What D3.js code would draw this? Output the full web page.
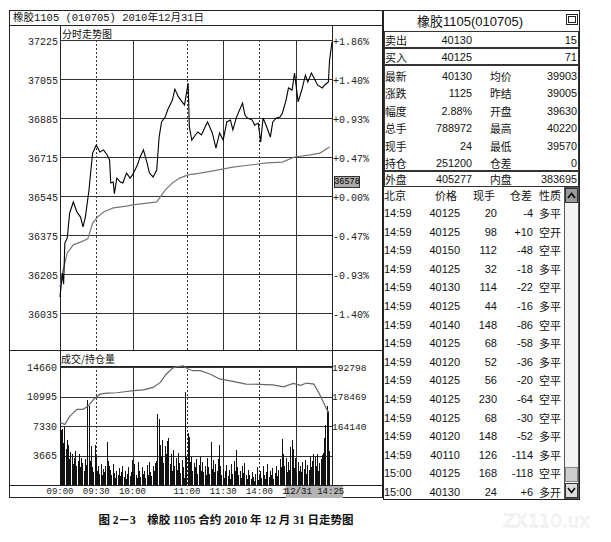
<!DOCTYPE html>
<html><head><meta charset="utf-8">
<script src="https://cdn.jsdelivr.net/npm/d3@7"></script>
<style>body{margin:0;background:#fff}</style>
</head><body><svg id="c" width="611" height="542" xmlns="http://www.w3.org/2000/svg"></svg>
<script>
// ---------- DATA ----------
const titleLeft = "橡胶1105 (010705) 2010年12月31日";
const priceTitle = "分时走势图";
const volTitle = "成交/持仓量";
const priceTicks = [37225, 37055, 36885, 36715, 36545, 36375, 36205, 36035];
const pctTicks = ["+1.86%", "+1.40%", "+0.93%", "+0.47%", "+0.00%", "-0.47%", "-0.93%", "-1.40%"];
const volTicks = [14660, 10995, 7330, 3665];
const oiTicks = [192798, 178469, 164140];
const timeLabels = ["09:00", "09:30", "10:00", "11:00", "11:30", "14:00", "14:30"];
const gridTimes = ["09:30", "10:00", "11:00", "11:30", "14:00", "14:30"];
const gridDotted = [true, false, true, false, true, false];
const cursorPrice = 36578;
const cursorTime = "12/31 14:25";
// [minute index, price]
const priceSeries = [[0,36105],[2,36209],[3,36161],[4,36340],[6,36362],[8,36471],[11,36519],[14,36475],[17,36453],[19,36410],[21,36453],[22,36493],[24,36571],[25,36628],[27,36732],[30,36767],[33,36737],[36,36746],[39,36724],[41,36702],[42,36602],[44,36606],[45,36555],[47,36623],[50,36606],[52,36602],[55,36645],[58,36623],[60,36637],[64,36680],[66,36711],[69,36746],[72,36689],[74,36645],[77,36628],[80,36658],[82,36802],[84,36868],[87,36889],[89,36920],[93,36963],[95,37011],[98,36977],[101,36955],[103,36942],[106,37037],[107,36846],[109,36789],[112,36811],[114,36824],[117,36811],[120,36846],[122,36868],[126,36820],[129,36754],[132,36820],[135,36789],[138,36868],[141,36876],[143,36833],[146,36889],[151,36950],[153,36898],[155,36885],[159,36876],[161,36854],[164,36863],[166,36780],[168,36885],[171,36846],[174,36802],[176,36868],[179,36885],[182,36889],[184,36907],[187,36963],[189,37016],[192,37007],[194,37081],[197,36955],[200,37007],[203,37072],[205,37042],[208,37081],[211,37051],[213,37029],[217,37016],[219,37029],[222,37042],[223,37138],[225,37216]];
const avgSeries = [[0,36148],[2,36209],[6,36297],[11,36332],[17,36344],[23,36358],[27,36427],[31,36453],[36,36475],[44,36493],[55,36501],[60,36506],[72,36514],[80,36519],[84,36549],[87,36571],[93,36602],[99,36623],[106,36637],[116,36645],[130,36658],[143,36671],[157,36680],[171,36689],[184,36693],[194,36715],[207,36724],[215,36732],[223,36759]];
const oiSeries = [[0,165900],[4,164900],[8,168800],[14,172250],[19,172250],[23,173700],[28,177150],[33,179600],[39,180100],[47,180300],[55,180900],[61,181300],[69,181700],[77,182900],[83,185300],[88,189400],[94,192650],[102,193400],[106,191800],[110,191000],[116,191000],[124,189400],[132,187000],[143,185800],[154,184500],[165,184400],[176,184100],[185,183200],[193,184800],[199,183900],[204,185000],[210,184500],[214,180400],[218,175500],[222,170600]];
const volume = [8500,6800,7000,5200,7200,4500,5600,5000,3200,4100,
3800,2600,3400,4200,2400,3000,3900,2200,3400,2700,
1800,3200,2500,10500,9800,3000,4800,2200,1600,5000,
3500,1800,2400,1400,2600,1200,2000,1600,2300,5400,
3000,2400,1900,1200,2600,1500,900,1800,1300,2100,
1100,1600,2400,1000,1800,700,1400,2200,1100,1600,
3100,1500,2600,1200,900,2800,1700,1000,2200,1400,
1800,900,2500,1300,2900,1600,1100,2400,1800,2700,
3000,8800,8200,5000,3600,5600,2700,4800,3900,5500,
5800,2600,3800,1700,4300,2300,3300,1900,4000,2700,
1500,3100,2200,900,11500,3500,6400,6000,2800,3500,
1700,2700,2200,3200,1400,2500,3500,1800,2900,1600,
2400,1300,3300,2200,1400,5400,2000,3100,1600,2600,
1800,3200,5000,2400,1300,2000,900,1700,2500,1100,
1900,800,2600,1400,3000,1800,4300,2200,1300,1700,
900,2300,1500,2700,1200,700,1900,1300,800,1600,
1000,500,1400,2200,600,1100,1800,900,2400,1300,
700,1600,2600,1000,1800,1200,2100,800,1500,2400,
1100,1900,3200,2200,5700,3800,2400,3400,1600,2800,
1900,4700,5600,4500,2100,3300,1500,2800,1800,2400,
1600,2900,2000,3100,1400,2500,1900,3500,2200,3000,
3800,3500,2300,3900,1800,2700,3200,3700,4000,5800,
7500,9800,9200,4200];
const titleRight = "橡胶1105(010705)";
const quoteRows = [["卖出","40130","","15"],["买入","40125","","71"]];
const statRows = [["最新","40130","均价","39903"],["涨跌","1125","昨结","39005"],["幅度","2.88%","开盘","39630"],["总手","788972","最高","40220"],["现手","24","最低","39570"],["持仓","251200","仓差","0"]];
const outerRow = ["外盘","405277","内盘","383695"];
const tradeHeader = ["北京","价格","现手","仓差","性质"];
const trades = [
["14:59","40125","20","-4","多平"],["14:59","40125","98","+10","空开"],["14:59","40150","112","-48","空平"],
["14:59","40125","32","-18","多平"],["14:59","40130","114","-22","空平"],["14:59","40125","44","-16","多平"],
["14:59","40140","148","-86","空平"],["14:59","40125","68","-58","多平"],["14:59","40120","52","-36","多平"],
["14:59","40125","56","-20","空平"],["14:59","40125","230","-64","空平"],["14:59","40125","68","-30","空平"],
["14:59","40120","148","-52","多平"],["14:59","40110","126","-114","多平"],["15:00","40125","168","-118","空平"],
["15:00","40130","24","+6","多开"]];
const caption = "图 2－3　橡胶 1105 合约 2010 年 12 月 31 日走势图";
const watermark = "ZX110.ux";

// ---------- HELPERS ----------
function toIndex(t){ const [h,m]=t.split(":").map(Number); const v=h*60+m;
  if(v<=615) return v-540; if(v<=690) return 75+(v-630); return 135+(v-810); }
const MONO = "'Liberation Mono','DejaVu Sans Mono',monospace";
const CJK = "'Noto Sans CJK SC','Noto Sans',sans-serif";
const SANS = "'Liberation Sans',Arial,'Noto Sans CJK SC',sans-serif";
const svg = d3.select("#c");
const x = d3.scaleLinear().domain([0,225]).range([60,332]);
const yP = d3.scaleLinear().domain([36035,37225]).range([313,40]);
const yV = d3.scaleLinear().domain([0,14660]).range([485,367]);
const yO = d3.scaleLinear().domain([164140,192798]).range([426,367]);
const px = v => Math.round(v)+0.5;
function hline(x1,x2,y,stroke="#222",w=1){ svg.append("line").attr("x1",x1).attr("x2",x2).attr("y1",px(y)).attr("y2",px(y)).attr("stroke",stroke).attr("stroke-width",w).attr("shape-rendering","crispEdges"); }
function vline(xx,y1,y2,stroke="#222",dash=null){ const l=svg.append("line").attr("x1",px(xx)).attr("x2",px(xx)).attr("y1",y1).attr("y2",y2).attr("stroke",stroke).attr("shape-rendering","crispEdges"); if(dash) l.attr("stroke-dasharray",dash); }
function text(t,xx,yy,opts={}){ return svg.append("text").attr("x",xx).attr("y",yy).text(t)
  .attr("font-family",opts.ff||SANS).attr("font-size",opts.fs||11).attr("fill",opts.fill||"#111")
  .attr("text-anchor",opts.anchor||"start").attr("dominant-baseline","central").attr("font-weight",opts.fw||"normal"); }

// ---------- LEFT PANEL FRAME ----------
svg.append("rect").attr("x",9.5).attr("y",10.5).attr("width",373).attr("height",487).attr("fill","none").attr("stroke","#222");
hline(9,383,25);
text(titleLeft,13,18,{ff:"'Liberation Mono','Noto Sans CJK SC',monospace",fs:10.5});
vline(60,25,485); vline(332,25,485);
hline(60,332,40);
text(priceTitle,62,33,{ff:CJK,fs:10});
hline(9,383,350);
hline(60,332,366);
text(volTitle,61,358,{ff:CJK,fs:10});
hline(9,383,485);

// price grid
priceTicks.forEach((v,i)=>{
  hline(60,332,yP(v),"#333");
  text(String(v),58,yP(v)+2,{ff:MONO,fs:10,anchor:"end",fill:"#222"});
  text(pctTicks[i],333,yP(v)+2,{ff:MONO,fs:10,fill:"#222"});
});
// volume grid
volTicks.forEach(v=>{ hline(60,332,yV(v),"#333"); text(String(v),57,yV(v)+1,{ff:MONO,fs:10,anchor:"end",fill:"#222"}); });
oiTicks.forEach(v=>{ text(String(v),332,yO(v)+1,{ff:MONO,fs:9.6,fill:"#222"}); });
// vertical grid
gridTimes.forEach((t,i)=>{ const xx=x(toIndex(t)); const d=gridDotted[i]?"2,2":null;
  vline(xx,40,350,"#333",d); vline(xx,366,485,"#333",d); });

// volume bars
svg.append("g").selectAll("rect").data(volume).join("rect")
  .attr("x",(d,i)=>Math.floor(x(i))).attr("width",1)
  .attr("y",d=>yV(d)).attr("height",d=>485-yV(d)).attr("fill","#111").attr("shape-rendering","crispEdges");

// lines
const lineP = d3.line().x(d=>x(d[0])).y(d=>yP(d[1]));
svg.append("path").attr("d",lineP(avgSeries)).attr("fill","none").attr("stroke","#777").attr("stroke-width",1.2);
svg.append("path").attr("d",lineP(priceSeries)).attr("fill","none").attr("stroke","#000").attr("stroke-width",1.1);
const lineO = d3.line().x(d=>x(d[0])).y(d=>yO(d[1]));
svg.append("path").attr("d",lineO(oiSeries)).attr("fill","none").attr("stroke","#666").attr("stroke-width",1.2);

// cursor price box
const cy = yP(cursorPrice);
svg.append("rect").attr("x",334.5).attr("y",Math.round(cy)-11.5).attr("width",25).attr("height",11).attr("fill","#aaa").attr("stroke","#333");
text(String(cursorPrice),347,Math.round(cy)-6,{ff:MONO,fs:8.5,anchor:"middle",fill:"#000"});

// time labels (the last one is partly hidden behind the cursor time box, as in the screenshot)
svg.append("clipPath").attr("id","tclip").append("rect").attr("x",0).attr("y",480).attr("width",286).attr("height",20);
timeLabels.forEach((t,i)=>{ const el=text(t,x(toIndex(t)),492,{ff:MONO,fs:9,anchor:"middle",fill:"#222"});
  if(i===timeLabels.length-1) el.attr("clip-path","url(#tclip)"); });
svg.append("rect").attr("x",286).attr("y",486).attr("width",57).attr("height",12).attr("fill","#b4b4b4");
text(cursorTime,314.5,492,{ff:MONO,fs:9,anchor:"middle",fill:"#111"});

// ---------- RIGHT PANEL ----------
const RX=383, RR=580;
svg.append("rect").attr("x",RX+0.5).attr("y",10.5).attr("width",RR-RX-1).attr("height",489).attr("fill","none").attr("stroke","#222");
text(titleRight,470,21,{ff:SANS,fs:13,anchor:"middle"});
svg.append("rect").attr("x",566.5).attr("y",14.5).attr("width",11).attr("height",10).attr("fill","none").attr("stroke","#222");
svg.append("rect").attr("x",568.5).attr("y",16.5).attr("width",7).attr("height",6).attr("fill","none").attr("stroke","#222");

function boxRow(y1,y2){ svg.append("rect").attr("x",RX+1.5).attr("y",y1+0.5).attr("width",RR-RX-3).attr("height",y2-y1).attr("fill","none").attr("stroke","#333"); }
function statRow(r,cy,fs=11){
  text(r[0],385,cy,{ff:CJK,fs:fs});
  text(r[1],472,cy,{anchor:"end",fs:fs});
  if(r[2]) text(r[2],490,cy,{ff:CJK,fs:fs});
  text(r[3],577,cy,{anchor:"end",fs:fs});
}
boxRow(31,47); statRow(quoteRows[0],39.5);
boxRow(48,64); statRow(quoteRows[1],56.5);
boxRow(65,170);
statRows.forEach((r,i)=>statRow(r,75.5+i*17.5,10.8));
boxRow(171,186); statRow(outerRow,178.5,10.8);

// trade table
const hdrY=195;
text(tradeHeader[0],384,hdrY,{ff:CJK,fs:11});
text(tradeHeader[1],457,hdrY,{ff:CJK,fs:11,anchor:"end"});
text(tradeHeader[2],495,hdrY,{ff:CJK,fs:11,anchor:"end"});
text(tradeHeader[3],532,hdrY,{ff:CJK,fs:11,anchor:"end"});
text(tradeHeader[4],539,hdrY,{ff:CJK,fs:11});
trades.forEach((r,i)=>{ const cy=213+i*18.6;
  text(r[0],384,cy); text(r[1],460,cy,{anchor:"end"}); text(r[2],497,cy,{anchor:"end"});
  text(r[3],533,cy,{anchor:"end"}); text(r[4],539,cy,{ff:CJK,fs:11});
});
// scrollbar
svg.append("rect").attr("x",564.5).attr("y",187.5).attr("width",14).attr("height",311).attr("fill","#f4f4f4").attr("stroke","#555");
svg.append("rect").attr("x",565.5).attr("y",188.5).attr("width",12).attr("height",14).attr("fill","#999").attr("stroke","#333");
svg.append("path").attr("d","M568,198 L571.5,193.5 L575,198").attr("fill","none").attr("stroke","#000").attr("stroke-width",1.6);
svg.append("rect").attr("x",565.5).attr("y",467.5).attr("width",12).attr("height",14).attr("fill","#ccc").attr("stroke","#888");
svg.append("rect").attr("x",565.5).attr("y",483.5).attr("width",12).attr("height",14).attr("fill","#ddd").attr("stroke","#333");
svg.append("path").attr("d","M568,488 L571.5,492.5 L575,488").attr("fill","none").attr("stroke","#000").attr("stroke-width",1.6);

// ---------- CAPTION ----------
text(caption,226,520,{ff:"'Liberation Serif','Noto Sans CJK SC',serif",fs:11.5,fw:"bold",anchor:"middle",fill:"#111"});
svg.append("text").attr("x",503).attr("y",527).text(watermark).attr("font-family","'DejaVu Sans',sans-serif").attr("font-size",18)
  .attr("fill","#ffffff").attr("stroke","#ececec").attr("stroke-width",0.8);
</script></body></html>
